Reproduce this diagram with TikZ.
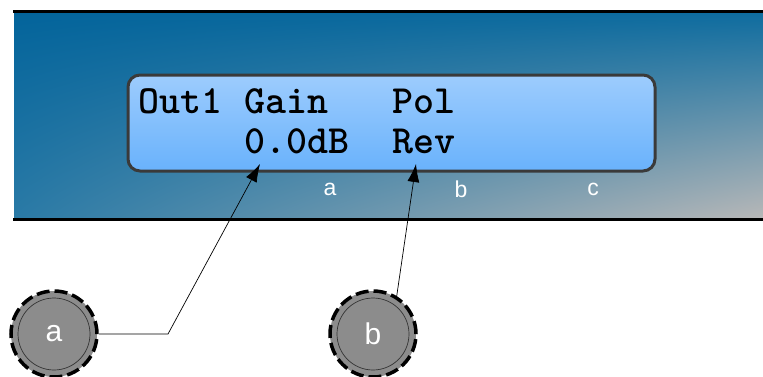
\documentclass[tikz,border=0pt]{standalone}
\usepackage{fontspec}
\setmainfont{Liberation Sans}
\usetikzlibrary{arrows.meta,shadings}
\definecolor{panelTL}{HTML}{03649B}
\definecolor{panelTR}{HTML}{0E6C9F}
\definecolor{panelBL}{HTML}{2A7AA6}
\definecolor{panelBR}{HTML}{B8B8B8}
\definecolor{lcdtop}{HTML}{9DCCFD}
\definecolor{lcdbot}{HTML}{69B2FC}
\definecolor{lcdedge}{HTML}{3A3A3A}
\definecolor{knobfill}{HTML}{8C8C8C}
\tikzset{
  lcdtext/.style={font=\ttfamily\bfseries\fontsize{40}{40}\selectfont, inner sep=0pt, anchor=base west, text=black},
  chlabel/.style={font=\fontsize{23}{23}\selectfont, text=white, inner sep=0pt},
  knob/.style={circle, minimum size=86pt, inner sep=0pt, fill=knobfill, draw=black, line width=3.5pt, dash pattern=on 13pt off 5pt, text=white, font=\fontsize{30}{30}\selectfont},
  knobinner/.style={circle, minimum size=72pt, inner sep=0pt, draw=black!80, line width=0.7pt},
  pointer/.style={draw=black, line width=0.7pt, -{Latex[length=18pt,width=12pt]}}
}
\begin{document}
\begin{tikzpicture}[x=1pt,y=-1pt]
\useasboundingbox (0,0) rectangle (763,376);
% panel
\shade[upper left=panelTL, upper right=panelTR, lower left=panelBL, lower right=panelBR] (14,12) rectangle (763,219);
\draw[line width=2.5pt] (13,11.5) -- (763,11.5);
\draw[line width=2.5pt] (13,219.5) -- (763,219.5);
% lcd
\shade[top color=lcdtop, bottom color=lcdbot, rounded corners=12pt] (128,75) rectangle (655,171);
\draw[draw=lcdedge, line width=3pt, rounded corners=12pt] (128,75) rectangle (655,171);
\node[lcdtext] (out) at (138,113) {Out1};
\node[lcdtext] (gain) at (244,113) {Gain};
\node[lcdtext] (pol) at (392,113) {Pol};
\node[lcdtext] (gainval) at (244,153) {0.0dB};
\node[lcdtext] (polval) at (392,153) {Rev};
% channel labels
\node[chlabel] (la) at (330,189) {a};
\node[chlabel] (lb) at (461,189) {b};
\node[chlabel] (lc) at (593,189) {c};
% knobs
\node[knob] (ka) at (54,334) {};
\node[knobinner] (kai) at (54,334) {};
\node[text=white, font=\fontsize{30}{30}\selectfont] (kat) at (54,334) {a};
\node[knob] (kb) at (373,334) {};
\node[knobinner] (kbi) at (373,334) {};
\node[text=white, font=\fontsize{30}{30}\selectfont] (kbt) at (373,334) {b};
% pointers
\coordinate (bend) at (168,334);
\coordinate (tipa) at (260,164);
\coordinate (tipb) at (416,164);
\draw[pointer] (ka.east) -- (bend) -- (tipa);
\draw[pointer] (kb.58) -- (tipb);
\end{tikzpicture}
\end{document}
